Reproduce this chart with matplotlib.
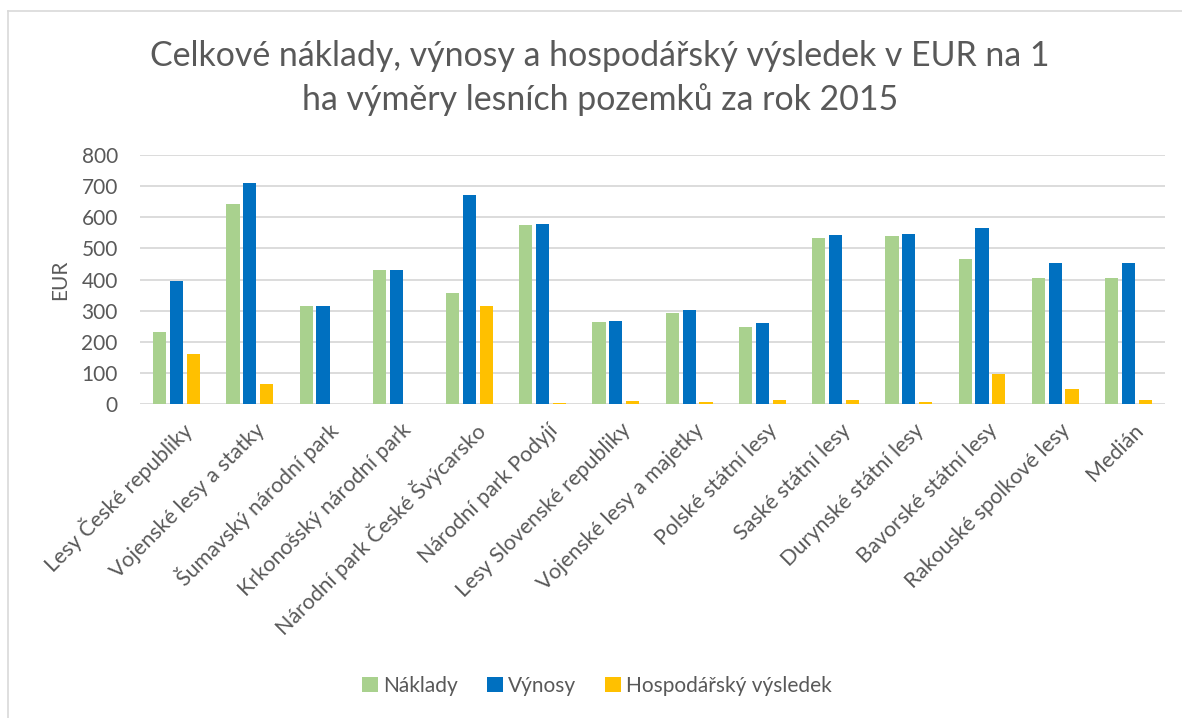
import matplotlib
matplotlib.use("Agg")
import matplotlib.pyplot as plt
import matplotlib.transforms as mtransforms
from matplotlib.lines import Line2D
import numpy as np

categories = ["Lesy České republiky", "Vojenské lesy a statky", "Šumavský národní park",
              "Krkonošský národní park", "Národní park České Švýcarsko", "Národní park Podyjí",
              "Lesy Slovenské republiky", "Vojenské lesy a majetky", "Polské státní lesy",
              "Saské státní lesy", "Durynské státní lesy", "Bavorské státní lesy",
              "Rakouské spolkové lesy", "Medián"]
naklady = [232, 642, 315, 430, 357, 574, 262, 292, 247, 532, 539, 466, 405, 405]
vynosy = [395, 709, 315, 430, 673, 578, 267, 301, 260, 544, 547, 564, 453, 453]
vysledek = [162, 64, 0, 0, 315, 2, 10, 5, 12, 12, 5, 97, 47, 12]
series_names = ["Náklady", "Výnosy", "Hospodářský výsledek"]
yticks = [0, 100, 200, 300, 400, 500, 600, 700, 800]

plt.rcParams['font.family'] = ['Lato', 'DejaVu Sans']
txt = '#595959'

W, H = 1182, 718
L, R, T, B = 140, 1165, 155, 404
fig = plt.figure(figsize=(W / 100, H / 100), dpi=100)
fig.patch.set_facecolor('white')
# chart frame (left and top edges visible in the crop)
fig.lines.append(Line2D([7.5 / W, 7.5 / W], [0, 1 - 10.5 / H], transform=fig.transFigure,
                        color='#d9d9d9', linewidth=1.2))
fig.lines.append(Line2D([7.5 / W, 1], [1 - 10.5 / H, 1 - 10.5 / H], transform=fig.transFigure,
                        color='#d9d9d9', linewidth=1.2))

ax = fig.add_axes([L / W, (H - B) / H, (R - L) / W, (B - T) / H])
x = np.arange(len(categories))
bw = 0.18
step = 0.23
colors = ['#a9d18e', '#0070c0', '#ffc000']
for i, (vals, c, n) in enumerate(zip([naklady, vynosy, vysledek], colors, series_names)):
    ax.bar(x + (i - 1) * step, vals, width=bw, color=c, label=n, zorder=3,
           edgecolor='none')

ax.set_xlim(-0.5, len(categories) - 0.5)
ax.set_ylim(0, 800)
ax.set_yticks(yticks)
ax.yaxis.grid(True, color='#d9d9d9', linewidth=1.3, zorder=0)
for s in ['top', 'right', 'left', 'bottom']:
    ax.spines[s].set_visible(False)
ax.tick_params(axis='both', length=0, colors=txt, labelsize=15)
ax.tick_params(axis='y', pad=16)
ax.set_xticks(x)
ax.set_xticklabels(categories, rotation=45, ha='right', va='center',
                   rotation_mode='anchor', fontsize=15.5, color=txt)
offset = mtransforms.ScaledTranslation(12 / 100, -18 / 100, fig.dpi_scale_trans)
for lab in ax.get_xticklabels():
    lab.set_transform(lab.get_transform() + offset)

ax.set_ylabel('EUR', fontsize=15, color=txt)
ax.yaxis.set_label_coords(-(L - 70) / (R - L), 0.5)

fig.text(600 / W, 1 - 56 / H, 'Celkové náklady, výnosy a hospodářský výsledek v EUR na 1',
         ha='center', va='center', fontsize=24.4, color=txt)
fig.text(600 / W, 1 - 100 / H, 'ha výměry lesních pozemků za rok 2015',
         ha='center', va='center', fontsize=24.4, color=txt)

fig.legend(loc='center', bbox_to_anchor=(597 / W, 1 - 686 / H), ncol=3, frameon=False,
           fontsize=15, handlelength=0.75, handleheight=0.75, handletextpad=0.25,
           columnspacing=1.4, labelcolor=txt)

fig.savefig('out.png', dpi=100, facecolor='white')
